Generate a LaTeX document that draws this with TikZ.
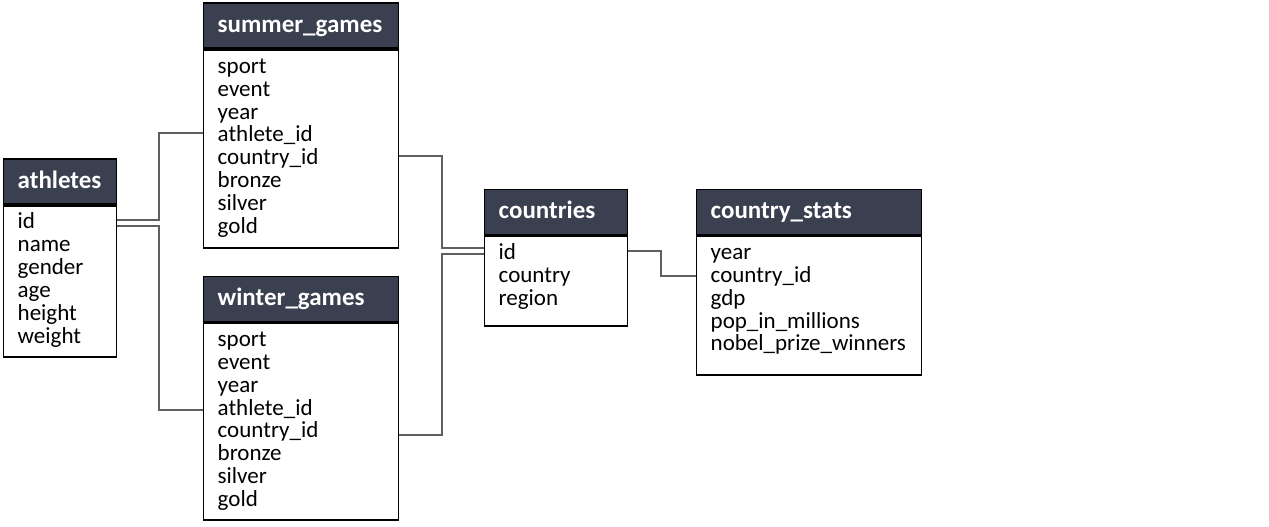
\documentclass[tikz,border=0pt]{standalone}
\usepackage{fontspec}
\setmainfont{Carlito}
\definecolor{hdrcol}{RGB}{59,64,80}
\definecolor{linecol}{RGB}{95,95,95}
\tikzset{
  hdr/.style={draw=black, line width=1.8pt, fill=hdrcol, minimum height=45pt, inner sep=0pt},
  bodybox/.style={draw=black, line width=1.8pt, fill=white, inner sep=0pt},
  titletext/.style={text=white, font=\fontsize{25}{27}\selectfont\bfseries, inner sep=0pt},
  rowtext/.style={text=black, font=\fontsize{23}{22.9}\selectfont, inner sep=0pt},
  conn/.style={draw=linecol, line width=1.8pt}
}
\newcommand\dbtable[7]{%
  \node[hdr, minimum width=#4, anchor=north west] (#1h) at (#2,#3) {};
  \node[bodybox, minimum width=#4, minimum height=#5, anchor=north west] (#1b) at (#1h.south west) {};
  \node[titletext, anchor=base west] (#1t) at ([xshift=15pt,yshift=-30pt]#1h.north west) {#6};
  \node[rowtext, anchor=base west] (#1r) at ([xshift=15pt,yshift=-24pt]#1b.north west) {\parbox[t]{200pt}{#7}};
}
\begin{document}
\begin{tikzpicture}[x=1pt,y=-1pt]
\useasboundingbox (0,0) rectangle (1269,527);
\dbtable{ath}{2.5}{158}{113pt}{151pt}{athletes}{id\\name\\gender\\age\\height\\weight}
\dbtable{sg}{202.5}{2.5}{195pt}{198pt}{summer\_games}{sport\\event\\year\\athlete\_id\\country\_id\\bronze\\silver\\gold}
\dbtable{wg}{202.5}{275.5}{195pt}{197pt}{winter\_games}{sport\\event\\year\\athlete\_id\\country\_id\\bronze\\silver\\gold}
\dbtable{co}{483.5}{188.5}{143pt}{90pt}{countries}{id\\country\\region}
\dbtable{cs}{695.5}{188.5}{225pt}{139pt}{country\_stats}{year\\country\_id\\gdp\\pop\_in\_millions\\nobel\_prize\_winners}
\draw[conn] ([yshift=-15pt]athb.north east) -- ++(42,0) |- ([yshift=-84pt]sgb.north west);
\draw[conn] ([yshift=-21pt]athb.north east) -- ++(42,0) |- ([yshift=-88pt]wgb.north west);
\draw[conn] ([yshift=-107pt]sgb.north east) -- ++(43,0) |- ([yshift=-13pt]cob.north west);
\draw[conn] ([yshift=-113pt]wgb.north east) -- ++(43,0) |- ([yshift=-19pt]cob.north west);
\draw[conn] ([yshift=-16pt]cob.north east) -- ++(33,0) |- ([yshift=-41pt]csb.north west);
\end{tikzpicture}
\end{document}
